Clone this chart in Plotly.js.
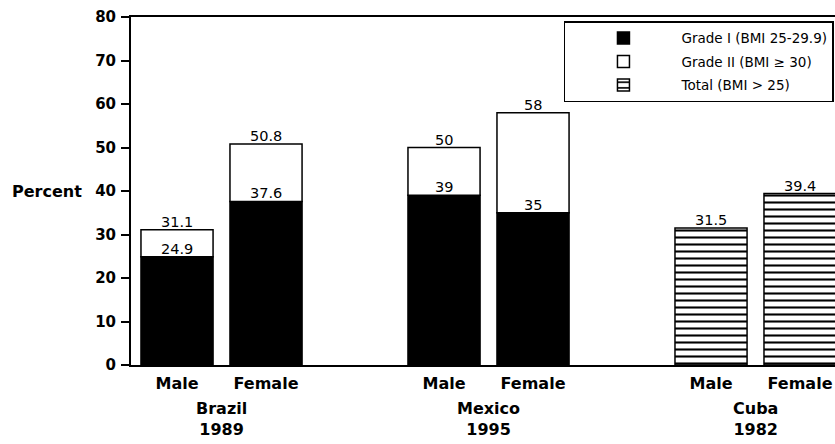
<!DOCTYPE html>
<html>
<head>
<meta charset="utf-8">
<script src="https://cdn.plot.ly/plotly-3.0.1.min.js"></script>
<style>html,body{margin:0;padding:0;background:#fff;overflow:hidden;}#chart{width:835px;height:444px;}</style>
</head>
<body>
<div id="chart"></div>
<script>
// Data
const sexLabels = ["Male", "Female"];
const groupLabels = ["Brazil<br>1989", "Mexico<br>1995", "Cuba<br>1982"];
const gradedPositions = [0, 1, 3, 4];          // Brazil M/F, Mexico M/F
const gradeI = [24.9, 37.6, 39, 35];           // BMI 25-29.9
const gradedTotal = [31.1, 50.8, 50, 58];      // top of Grade II bar
const cubaPositions = [6, 7];                  // Cuba M/F
const cubaTotal = [31.5, 39.4];                // BMI > 25
const tickPositions = [0, 1, 3, 4, 6, 7];
const tickText = ["Male", "Female", "Male", "Female", "Male", "Female"];
const groupCenters = [0.5, 3.5, 6.5];
const yTicks = [0, 10, 20, 30, 40, 50, 60, 70, 80];

const BW = 0.81;
const gradeII = gradedTotal.map((t, i) => +(t - gradeI[i]).toFixed(1));

const traces = [
  {
    type: "bar", name: "Grade I (BMI 25-29.9)", legendgroup: "g1",
    x: gradedPositions, y: gradeI, base: gradedPositions.map(() => 0), width: BW,
    marker: {color: "#000", line: {color: "#000", width: 1.5}},
    hoverinfo: "skip"
  },
  {
    type: "bar", name: "Grade II (BMI \u2265 30)", legendgroup: "g2",
    x: gradedPositions, y: gradeII, base: gradeI, width: BW,
    marker: {color: "#fff", line: {color: "#000", width: 1.5}},
    hoverinfo: "skip"
  },
  {
    type: "bar", name: "Total (BMI > 25)", legendgroup: "g3",
    x: cubaPositions, y: cubaTotal, base: cubaPositions.map(() => 0), width: BW,
    marker: {color: "#fff", line: {color: "#000", width: 1.5},
             pattern: {shape: "-", fgcolor: "#000", bgcolor: "#fff", size: 7, solidity: 0.3}},
    hoverinfo: "skip"
  }
];

const labelFont = {family: "DejaVu Sans", size: 14.5, color: "#000"};
const annotations = [];
gradedPositions.forEach((x, i) => {
  annotations.push({x: x, y: gradedTotal[i], xref: "x", yref: "y", text: String(gradedTotal[i]),
    showarrow: false, yanchor: "bottom", font: labelFont, yshift: -2});
  annotations.push({x: x, y: gradeI[i], xref: "x", yref: "y", text: String(gradeI[i]),
    showarrow: false, yanchor: "bottom", font: labelFont, yshift: -2});
});
cubaPositions.forEach((x, i) => {
  annotations.push({x: x, y: cubaTotal[i], xref: "x", yref: "y", text: String(cubaTotal[i]),
    showarrow: false, yanchor: "bottom", font: labelFont, yshift: -2});
});
groupCenters.forEach((x, i) => {
  annotations.push({x: x, y: 0, xref: "x", yref: "paper", text: groupLabels[i],
    showarrow: false, yanchor: "top", yshift: -32,
    font: {family: "DejaVu Sans", size: 16, color: "#000", weight: "bold"}});
});
annotations.push({x: -0.067, y: 40, xref: "paper", yref: "y", text: "Percent",
  showarrow: false, xanchor: "right", yanchor: "middle",
  font: {family: "DejaVu Sans", size: 16, color: "#000", weight: "bold"}});

const layout = {
  width: 835, height: 444,
  margin: {l: 131, r: 0, t: 17, b: 79, autoexpand: false},
  paper_bgcolor: "#fff", plot_bgcolor: "#fff",
  barmode: "overlay",
  showlegend: true,
  legend: {
    x: 0.615, y: 0.988, xanchor: "left", yanchor: "top",
    bordercolor: "#000", borderwidth: 1.5, bgcolor: "#fff",
    itemwidth: 106, traceorder: "grouped", tracegroupgap: 3,
    font: {family: "DejaVu Sans", size: 13.5, color: "#000"}
  },
  xaxis: {
    range: [-0.517, 7.393], tickvals: tickPositions, ticktext: tickText,
    ticks: "", showgrid: false, zeroline: false,
    showline: true, mirror: true, linecolor: "#000", linewidth: 2,
    tickfont: {family: "DejaVu Sans", size: 16, color: "#000", weight: "bold"},
    ticklabelstandoff: 3,
    fixedrange: true
  },
  yaxis: {
    range: [0, 80], tickvals: yTicks, ticks: "outside", ticklen: 8, tickwidth: 2, tickcolor: "#000",
    showgrid: false, zeroline: false, showline: true, linecolor: "#000", linewidth: 2,
    tickfont: {family: "DejaVu Sans", size: 15, color: "#000", weight: "bold"},
    ticklabelstandoff: 2,
    fixedrange: true
  },
  annotations: annotations
};

Plotly.newPlot("chart", traces, layout, {displayModeBar: false, staticPlot: true});
</script>
</body>
</html>
